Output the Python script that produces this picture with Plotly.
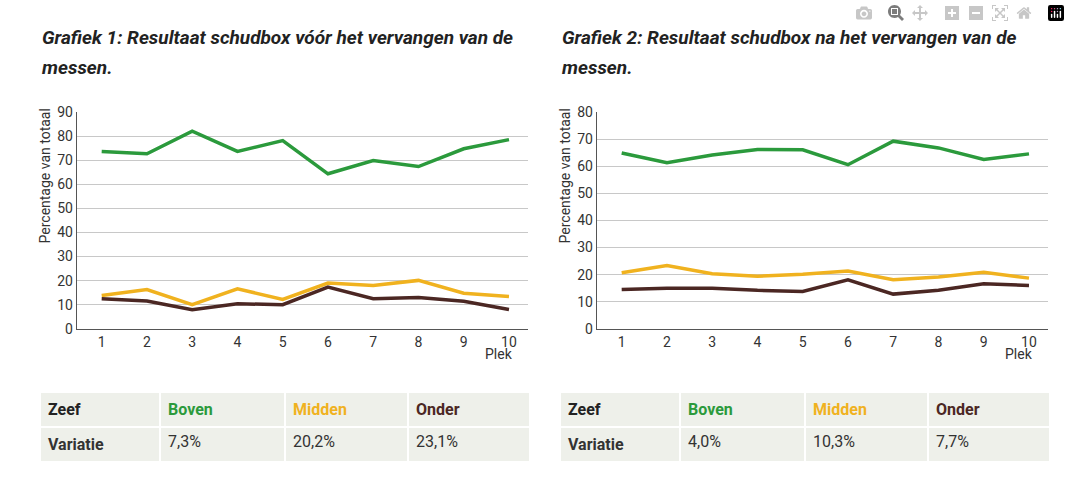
import plotly.graph_objects as go

# plek 1..10
plek = [1, 2, 3, 4, 5, 6, 7, 8, 9, 10]

# grafiek 1: voor het vervangen van de messen
boven1 = [73.7, 72.7, 82.1, 73.7, 78.2, 64.4, 69.9, 67.4, 74.8, 78.6]
midden1 = [13.8, 16.3, 10.0, 16.6, 12.2, 19.0, 18.0, 20.1, 14.8, 13.4]
onder1 = [12.5, 11.5, 7.9, 10.4, 10.0, 17.3, 12.5, 13.0, 11.4, 8.0]

# grafiek 2: na het vervangen van de messen
boven2 = [64.9, 61.3, 64.2, 66.2, 66.1, 60.6, 69.3, 66.8, 62.5, 64.6]
midden2 = [20.7, 23.4, 20.3, 19.4, 20.1, 21.3, 18.1, 19.1, 20.9, 18.7]
onder2 = [14.5, 15.0, 15.0, 14.2, 13.8, 18.1, 12.8, 14.2, 16.6, 16.0]

zeef = ["Boven", "Midden", "Onder"]
variatie1 = ["7,3%", "20,2%", "23,1%"]
variatie2 = ["4,0%", "10,3%", "7,7%"]

titles = ["Grafiek 1: Resultaat schudbox vóór het vervangen van de",
          "Grafiek 2: Resultaat schudbox na het vervangen van de"]

GREEN = "#2b9a3c"
YELLOW = "#f0b21f"
BROWN = "#4b2723"
colors = [GREEN, YELLOW, BROWN]
W, H = 1070, 483
FONT = "Roboto"

# the photographed page comes out slightly squeezed vertically, so positions
# are given in picture pixels and converted back here
SQ_A, SQ_S = 7.5, 0.967


def px(x):
    return x / W


def py(y):
    return min(1, max(0, 1 - ((y - SQ_A) / SQ_S) / H))


fig = go.Figure()

charts = [
    (boven1, midden1, onder1, "x", "y"),
    (boven2, midden2, onder2, "x2", "y2"),
]
for b, m, o, xa, ya in charts:
    for vals, c, n in zip([b, m, o], colors, zeef):
        fig.add_trace(go.Scatter(x=plek, y=vals, mode="lines", name=n,
                                 line=dict(color=c, width=3.5),
                                 xaxis=xa, yaxis=ya, showlegend=False))

axis_y = dict(showgrid=True, gridcolor="#c8c8c8", gridwidth=1,
              showline=True, linecolor="#555", linewidth=1,
              tickfont=dict(family=FONT, size=14, color="#333"),
              ticks="", zeroline=False, dtick=10)
axis_x = dict(showgrid=False, showline=True, linecolor="#555", linewidth=1,
              tickfont=dict(family=FONT, size=14, color="#333"),
              tickvals=plek, range=[0.448, 10.42], ticks="", zeroline=False)

fig.update_layout(
    width=W, height=H,
    margin=dict(l=0, r=0, t=0, b=0),
    paper_bgcolor="white", plot_bgcolor="white",
    xaxis=dict(axis_x, domain=[px(76.7), px(528)], anchor="y"),
    yaxis=dict(axis_y, domain=[py(328.3), py(111.7)], range=[0, 90], anchor="x"),
    xaxis2=dict(axis_x, domain=[px(596.7), px(1048)], anchor="y2"),
    yaxis2=dict(axis_y, domain=[py(328.3), py(111.7)], range=[0, 80], anchor="x2"),
)

# titels en as-labels
for i, left in enumerate([40, 560]):
    fig.add_annotation(x=px(left), y=py(37), xref="paper", yref="paper",
                       text="<b><i>" + titles[i] + "</i></b>", showarrow=False,
                       xanchor="left", yanchor="middle",
                       font=dict(family=FONT, size=19, color="#222"))
    fig.add_annotation(x=px(left), y=py(67), xref="paper", yref="paper",
                       text="<b><i>messen.</i></b>", showarrow=False,
                       xanchor="left", yanchor="middle",
                       font=dict(family=FONT, size=19, color="#222"))
    fig.add_annotation(x=px(left + 5), y=py(176), xref="paper", yref="paper",
                       text="Percentage van totaal", textangle=-90, showarrow=False,
                       xanchor="center", yanchor="middle",
                       font=dict(family=FONT, size=14, color="#333"))
    fig.add_annotation(x=px(left + 475), y=py(354), xref="paper", yref="paper",
                       text="Plek", showarrow=False, xanchor="right", yanchor="middle",
                       font=dict(family=FONT, size=14, color="#333"))

# tabellen met variatie
for left, var in [(40, variatie1), (560, variatie2)]:
    fig.add_trace(go.Table(
        domain=dict(x=[px(left), px(left + 490)], y=[py(470), py(392)]),
        columnwidth=[120, 125, 123, 122],
        header=dict(values=["<b>Zeef</b>"] + ["<b>" + z + "</b>" for z in zeef],
                    fill_color="#eef0ea", line=dict(color="white", width=2),
                    align="left", height=31,
                    font=dict(family=FONT, size=16, color=["#222"] + colors)),
        cells=dict(values=[["<b>Variatie</b>"]] + [[v] for v in var],
                   fill_color="#eef0ea", line=dict(color="white", width=2),
                   align="left", height=31,
                   font=dict(family=FONT, size=16, color="#333")),
    ))

fig.write_html("out.html", post_script="document.body.style.margin='0';")
